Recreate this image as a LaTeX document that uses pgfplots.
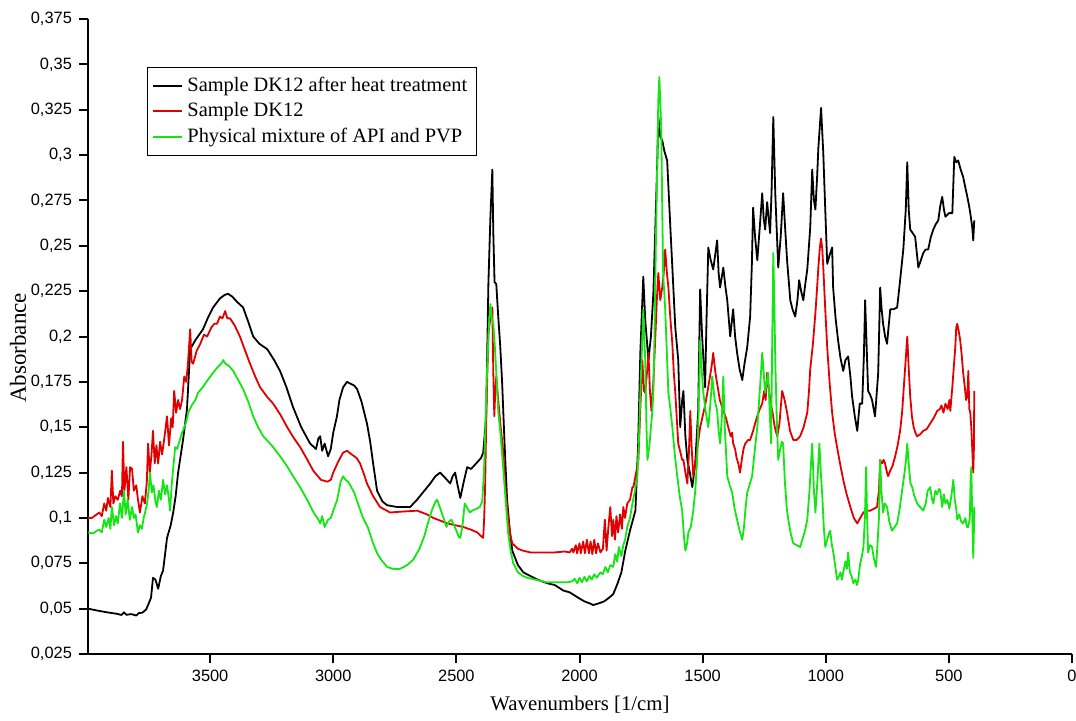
\documentclass[border=0pt]{standalone}
\usepackage{fontspec}
\setmainfont{Liberation Serif}
\newfontfamily\tickfont{Liberation Sans}
\usepackage{pgfplots}
\pgfplotsset{compat=1.18}
\definecolor{specred}{RGB}{225,0,0}
\definecolor{specgreen}{RGB}{20,230,20}
\pgfplotstableread{
wn a
3996 0.0500
3960 0.0490
3920 0.0480
3880 0.0472
3860 0.0465
3850 0.0480
3840 0.0466
3820 0.0470
3800 0.0462
3790 0.0475
3775 0.0478
3760 0.0495
3752 0.0520
3740 0.0560
3732 0.0670
3722 0.0660
3711 0.0610
3700 0.0680
3691 0.0710
3675 0.0890
3660 0.0960
3650 0.1030
3640 0.1120
3630 0.1250
3610 0.1430
3594 0.1600
3581 0.1930
3560 0.1980
3529 0.2040
3510 0.2100
3488 0.2160
3460 0.2210
3440 0.2230
3427 0.2235
3410 0.2220
3390 0.2190
3366 0.2160
3345 0.2080
3325 0.2000
3300 0.1960
3268 0.1930
3240 0.1870
3216 0.1810
3190 0.1720
3163 0.1610
3130 0.1500
3094 0.1410
3070 0.1380
3060 0.1440
3053 0.1450
3045 0.1370
3035 0.1410
3021 0.1340
3010 0.1380
3000 0.1470
2985 0.1560
2975 0.1650
2960 0.1720
2944 0.1750
2930 0.1740
2915 0.1730
2903 0.1710
2885 0.1640
2863 0.1520
2850 0.1420
2838 0.1300
2822 0.1150
2800 0.1090
2781 0.1070
2740 0.1060
2700 0.1060
2688 0.1060
2660 0.1100
2630 0.1150
2606 0.1190
2585 0.1230
2566 0.1250
2545 0.1220
2525 0.1190
2515 0.1230
2505 0.1250
2495 0.1180
2484 0.1110
2470 0.1200
2456 0.1280
2440 0.1270
2420 0.1300
2400 0.1330
2391 0.1360
2379 0.1560
2370 0.2290
2362 0.2650
2354 0.2920
2350 0.2570
2345 0.2300
2338 0.2290
2330 0.2110
2322 0.1950
2314 0.1740
2304 0.1400
2294 0.1100
2283 0.0930
2273 0.0820
2250 0.0740
2228 0.0700
2200 0.0680
2170 0.0660
2131 0.0640
2100 0.0630
2066 0.0600
2040 0.0590
2005 0.0560
1980 0.0540
1960 0.0530
1944 0.0520
1920 0.0530
1900 0.0540
1880 0.0560
1863 0.0580
1845 0.0640
1830 0.0700
1814 0.0820
1795 0.0930
1773 0.1040
1762 0.1400
1753 0.1910
1741 0.2330
1733 0.2090
1720 0.1870
1710 0.2000
1700 0.2240
1692 0.2600
1684 0.2970
1680 0.3210
1672 0.3100
1664 0.3080
1655 0.3020
1644 0.2970
1631 0.2600
1620 0.2300
1611 0.2050
1599 0.1870
1591 0.1500
1583 0.1650
1578 0.1700
1570 0.1450
1562 0.1320
1552 0.1250
1542 0.1170
1530 0.1300
1518 0.1590
1510 0.2260
1502 0.2000
1490 0.1720
1484 0.2100
1477 0.2490
1467 0.2420
1457 0.2370
1449 0.2450
1441 0.2530
1435 0.2350
1429 0.2270
1416 0.2380
1408 0.2280
1400 0.2200
1388 0.2000
1376 0.2150
1368 0.2000
1360 0.1910
1350 0.1820
1339 0.1760
1330 0.1850
1319 0.1940
1307 0.2110
1300 0.2400
1295 0.2710
1287 0.2550
1278 0.2420
1268 0.2600
1258 0.2790
1252 0.2650
1246 0.2590
1238 0.2740
1226 0.2570
1220 0.2800
1213 0.3210
1205 0.2790
1193 0.2380
1183 0.2550
1173 0.2790
1165 0.2600
1157 0.2420
1144 0.2200
1135 0.2150
1124 0.2110
1115 0.2200
1108 0.2310
1100 0.2250
1091 0.2200
1084 0.2280
1075 0.2370
1063 0.2600
1055 0.2920
1048 0.2750
1042 0.2700
1035 0.2880
1030 0.3040
1019 0.3260
1010 0.3010
1002 0.2700
994 0.2400
984 0.2450
974 0.2490
970 0.2270
960 0.2100
950 0.1980
940 0.1880
929 0.1810
920 0.1870
909 0.1890
900 0.1780
893 0.1670
882 0.1560
872 0.1480
862 0.1630
852 0.1630
845 0.1900
840 0.2200
834 0.1950
828 0.1700
820 0.1680
812 0.1650
800 0.1560
795 0.1650
787 0.1800
779 0.2270
773 0.2150
767 0.2070
759 0.2000
751 0.1960
745 0.2050
738 0.2150
725 0.2150
710 0.2160
698 0.2310
685 0.2480
675 0.2700
669 0.2960
663 0.2700
657 0.2590
647 0.2570
637 0.2550
624 0.2380
614 0.2420
604 0.2460
594 0.2480
584 0.2480
573 0.2550
563 0.2590
553 0.2620
543 0.2640
535 0.2720
527 0.2770
520 0.2700
514 0.2660
500 0.2680
486 0.2680
478 0.2990
470 0.2960
462 0.2970
452 0.2920
442 0.2880
433 0.2820
425 0.2770
418 0.2720
413 0.2680
405 0.2600
401 0.2530
397 0.2640
}\heated
\pgfplotstableread{
wn a
3996 0.1000
3980 0.1000
3960 0.1020
3950 0.1030
3940 0.1010
3930 0.1080
3922 0.1040
3915 0.1110
3905 0.1060
3899 0.1260
3893 0.1080
3885 0.1120
3875 0.1100
3865 0.1150
3858 0.1120
3854 0.1420
3848 0.1150
3840 0.1280
3832 0.1100
3825 0.1280
3817 0.1270
3810 0.1150
3800 0.1180
3793 0.1100
3785 0.1030
3775 0.1120
3765 0.1080
3757 0.1200
3752 0.1410
3745 0.1250
3738 0.1350
3732 0.1480
3725 0.1300
3718 0.1400
3711 0.1300
3703 0.1420
3695 0.1350
3685 0.1450
3675 0.1560
3667 0.1400
3658 0.1550
3652 0.1500
3646 0.1700
3638 0.1580
3630 0.1650
3622 0.1600
3614 0.1650
3605 0.1780
3597 0.1750
3590 0.1850
3581 0.2040
3575 0.1860
3569 0.1850
3555 0.1920
3540 0.1960
3525 0.2010
3512 0.2000
3495 0.2050
3483 0.2070
3472 0.2070
3460 0.2110
3450 0.2100
3439 0.2140
3430 0.2100
3419 0.2100
3400 0.2060
3379 0.2000
3360 0.1930
3338 0.1850
3317 0.1780
3297 0.1720
3270 0.1670
3244 0.1630
3215 0.1570
3187 0.1500
3160 0.1440
3134 0.1390
3105 0.1320
3081 0.1260
3050 0.1210
3024 0.1200
3010 0.1210
3000 0.1250
2980 0.1310
2960 0.1360
2944 0.1370
2925 0.1350
2905 0.1330
2891 0.1300
2875 0.1240
2863 0.1190
2838 0.1120
2810 0.1060
2769 0.1030
2720 0.1035
2659 0.1040
2620 0.1020
2594 0.1000
2565 0.0985
2537 0.0970
2505 0.0960
2472 0.0950
2440 0.0935
2415 0.0920
2400 0.0900
2391 0.0890
2387 0.1000
2383 0.1190
2378 0.1600
2370 0.2020
2362 0.2100
2354 0.2160
2350 0.1800
2346 0.1560
2342 0.1700
2338 0.1780
2330 0.1650
2320 0.1500
2310 0.1370
2300 0.1150
2290 0.1000
2280 0.0900
2273 0.0860
2250 0.0830
2230 0.0820
2200 0.0810
2150 0.0810
2100 0.0810
2060 0.0815
2040 0.0810
2030 0.0830
2025 0.0810
2015 0.0850
2010 0.0805
2000 0.0860
1995 0.0805
1985 0.0870
1978 0.0805
1970 0.0880
1962 0.0805
1955 0.0870
1948 0.0800
1940 0.0880
1933 0.0805
1925 0.0860
1915 0.0810
1905 0.0830
1897 0.0990
1890 0.0820
1882 0.0960
1875 0.1060
1868 0.0900
1863 0.0990
1856 0.0880
1850 0.1010
1843 0.0920
1835 0.1020
1828 0.0940
1822 0.1060
1815 0.1000
1806 0.1080
1795 0.1100
1785 0.1170
1781 0.1170
1770 0.1250
1761 0.1320
1753 0.1600
1745 0.1870
1738 0.1700
1733 0.1690
1726 0.1800
1720 0.1910
1714 0.1700
1708 0.1590
1700 0.1750
1692 0.2000
1686 0.2200
1680 0.2350
1672 0.2200
1664 0.2270
1658 0.2350
1652 0.2480
1645 0.2350
1639 0.2270
1631 0.2100
1623 0.1960
1617 0.1800
1611 0.1690
1605 0.1550
1599 0.1410
1590 0.1360
1583 0.1320
1578 0.1320
1570 0.1250
1562 0.1190
1556 0.1350
1550 0.1590
1545 0.1400
1538 0.1230
1530 0.1300
1520 0.1400
1510 0.1500
1500 0.1560
1490 0.1620
1481 0.1690
1470 0.1780
1462 0.1850
1457 0.1910
1448 0.1800
1441 0.1740
1430 0.1650
1416 0.1590
1405 0.1550
1396 0.1500
1386 0.1450
1380 0.1470
1376 0.1410
1368 0.1380
1362 0.1330
1355 0.1300
1348 0.1250
1340 0.1330
1334 0.1380
1327 0.1410
1315 0.1430
1307 0.1430
1295 0.1480
1287 0.1520
1278 0.1560
1268 0.1600
1258 0.1630
1250 0.1700
1244 0.1650
1238 0.1800
1230 0.1700
1222 0.1620
1217 0.1590
1207 0.1500
1197 0.1450
1188 0.1520
1182 0.1620
1177 0.1700
1167 0.1650
1157 0.1580
1145 0.1480
1132 0.1430
1118 0.1430
1104 0.1450
1090 0.1500
1075 0.1580
1068 0.1700
1063 0.1820
1052 0.1960
1042 0.2130
1036 0.2250
1030 0.2380
1024 0.2490
1019 0.2540
1014 0.2480
1010 0.2380
1002 0.2150
994 0.1940
984 0.1740
974 0.1580
964 0.1470
954 0.1390
942 0.1300
929 0.1210
915 0.1130
900 0.1060
886 0.1000
872 0.0970
860 0.1000
847 0.1030
835 0.1040
820 0.1040
805 0.1050
792 0.1060
784 0.1150
779 0.1320
772 0.1300
765 0.1320
759 0.1300
753 0.1260
747 0.1230
738 0.1260
728 0.1290
718 0.1340
708 0.1400
698 0.1480
690 0.1580
681 0.1760
674 0.1900
669 0.2000
664 0.1850
657 0.1670
650 0.1560
643 0.1500
636 0.1470
629 0.1450
617 0.1460
604 0.1480
590 0.1490
576 0.1520
562 0.1550
547 0.1590
537 0.1600
530 0.1620
522 0.1580
514 0.1630
505 0.1600
498 0.1650
494 0.1590
486 0.1720
479 0.1850
474 0.1940
470 0.2050
466 0.2070
460 0.2030
454 0.1980
448 0.1900
442 0.1800
436 0.1730
430 0.1650
425 0.1670
421 0.1810
417 0.1600
413 0.1580
409 0.1500
405 0.1380
401 0.1250
398 0.1400
397 0.1700
}\sample
\pgfplotstableread{
wn a
3996 0.0920
3975 0.0915
3960 0.0930
3950 0.0935
3940 0.0920
3930 0.0990
3922 0.0950
3912 0.1000
3905 0.0940
3899 0.1060
3890 0.0960
3882 0.1010
3875 0.0970
3866 0.1080
3858 0.1000
3850 0.1150
3843 0.1020
3835 0.1100
3826 0.0990
3817 0.1060
3810 0.1000
3803 0.1020
3793 0.0920
3785 0.0960
3777 0.0940
3770 0.1000
3764 0.1030
3756 0.1080
3750 0.1150
3744 0.1250
3737 0.1140
3730 0.1180
3722 0.1090
3716 0.1060
3708 0.1150
3700 0.1100
3691 0.1210
3683 0.1130
3675 0.1180
3667 0.1100
3663 0.1040
3655 0.1200
3648 0.1300
3642 0.1390
3634 0.1380
3625 0.1420
3614 0.1470
3605 0.1500
3597 0.1530
3589 0.1580
3575 0.1620
3560 0.1650
3549 0.1690
3530 0.1720
3510 0.1760
3488 0.1800
3470 0.1830
3455 0.1850
3447 0.1870
3438 0.1850
3425 0.1840
3406 0.1810
3386 0.1760
3366 0.1710
3345 0.1640
3325 0.1560
3305 0.1500
3284 0.1450
3250 0.1400
3216 0.1340
3190 0.1290
3163 0.1230
3135 0.1170
3106 0.1100
3080 0.1030
3060 0.0990
3053 0.0970
3045 0.1010
3035 0.0950
3021 0.0990
3010 0.1000
3000 0.1040
2984 0.1100
2970 0.1200
2960 0.1230
2950 0.1210
2940 0.1200
2931 0.1180
2915 0.1140
2900 0.1080
2879 0.1000
2860 0.0950
2838 0.0860
2820 0.0800
2800 0.0760
2781 0.0730
2760 0.0720
2740 0.0718
2728 0.0720
2700 0.0740
2675 0.0770
2650 0.0830
2630 0.0900
2618 0.0960
2600 0.1040
2585 0.1090
2578 0.1100
2565 0.1050
2550 0.0990
2540 0.0950
2530 0.0980
2520 0.0990
2513 0.0970
2500 0.0930
2490 0.0895
2484 0.0890
2475 0.0960
2466 0.1080
2458 0.1060
2445 0.1030
2436 0.1040
2420 0.1050
2405 0.1060
2395 0.1090
2388 0.1250
2380 0.1600
2375 0.1830
2368 0.2050
2362 0.2180
2356 0.2100
2350 0.2070
2344 0.1950
2338 0.1800
2330 0.1590
2320 0.1450
2310 0.1280
2300 0.1100
2290 0.0920
2280 0.0820
2269 0.0750
2250 0.0700
2230 0.0680
2212 0.0670
2180 0.0660
2131 0.0645
2091 0.0645
2050 0.0645
2030 0.0650
2020 0.0665
2009 0.0640
2000 0.0670
1990 0.0645
1980 0.0675
1970 0.0650
1960 0.0680
1950 0.0660
1940 0.0690
1930 0.0670
1915 0.0700
1905 0.0690
1895 0.0730
1885 0.0700
1875 0.0740
1863 0.0730
1855 0.0800
1847 0.0760
1840 0.0840
1830 0.0790
1822 0.0850
1815 0.0880
1806 0.0950
1795 0.1000
1785 0.1080
1775 0.1150
1765 0.1230
1758 0.1450
1753 0.1690
1746 0.1950
1741 0.2150
1737 0.2000
1733 0.1870
1728 0.1500
1724 0.1320
1716 0.1400
1710 0.1500
1704 0.1590
1700 0.1700
1696 0.1960
1690 0.2500
1684 0.2970
1680 0.3300
1676 0.3430
1672 0.3300
1668 0.3150
1664 0.2700
1660 0.2330
1656 0.2250
1652 0.2150
1645 0.1900
1639 0.1690
1631 0.1600
1623 0.1500
1613 0.1350
1603 0.1230
1593 0.1120
1583 0.1040
1576 0.0900
1570 0.0820
1563 0.0860
1558 0.0920
1548 0.0950
1538 0.1040
1530 0.1150
1522 0.1320
1516 0.1600
1510 0.1980
1503 0.1800
1497 0.1690
1487 0.1580
1477 0.1500
1469 0.1620
1461 0.1780
1451 0.1650
1441 0.1590
1435 0.1480
1429 0.1410
1422 0.1550
1416 0.1780
1410 0.1500
1400 0.1230
1390 0.1180
1380 0.1140
1370 0.1050
1360 0.0990
1350 0.0930
1339 0.0880
1332 0.0950
1326 0.1050
1319 0.1140
1310 0.1180
1299 0.1230
1290 0.1350
1278 0.1500
1268 0.1700
1262 0.1820
1258 0.1910
1252 0.1800
1246 0.1690
1240 0.1750
1234 0.1800
1228 0.1600
1222 0.1410
1218 0.1900
1213 0.2460
1209 0.2200
1205 0.1870
1199 0.1550
1193 0.1320
1185 0.1380
1178 0.1420
1173 0.1410
1166 0.1200
1158 0.1050
1152 0.0990
1143 0.0920
1132 0.0860
1118 0.0850
1104 0.0840
1095 0.0880
1084 0.0930
1075 0.0990
1066 0.1150
1060 0.1300
1055 0.1410
1048 0.1150
1042 0.1030
1034 0.1200
1026 0.1410
1020 0.1250
1014 0.1120
1008 0.0950
1002 0.0840
994 0.0880
988 0.0910
982 0.0930
975 0.0850
968 0.0800
960 0.0720
954 0.0660
946 0.0680
940 0.0700
934 0.0660
929 0.0700
920 0.0760
914 0.0720
909 0.0810
902 0.0700
895 0.0680
888 0.0640
880 0.0660
873 0.0630
868 0.0660
860 0.0750
853 0.0790
847 0.0840
841 0.1000
836 0.1280
832 0.1000
828 0.0810
820 0.0850
812 0.0840
805 0.0780
796 0.0730
790 0.0850
784 0.1000
779 0.1320
774 0.1150
767 0.1030
760 0.1080
751 0.1060
742 0.0980
731 0.0930
720 0.0950
710 0.0970
700 0.1050
690 0.1150
680 0.1250
674 0.1320
669 0.1410
663 0.1300
656 0.1190
649 0.1170
640 0.1120
629 0.1080
617 0.1060
604 0.1040
594 0.1080
586 0.1150
576 0.1170
568 0.1100
563 0.1080
555 0.1150
548 0.1130
540 0.1160
535 0.1150
527 0.1060
520 0.1130
514 0.1080
506 0.1100
498 0.1050
490 0.1120
482 0.1210
476 0.1100
470 0.1050
466 0.0990
458 0.1020
450 0.0980
442 0.0970
433 0.1000
427 0.0950
421 0.0950
415 0.1000
412 0.1200
409 0.1280
405 0.1000
401 0.0780
398 0.0950
397 0.1060
}\mixture
\begin{document}
\begin{tikzpicture}
\useasboundingbox (-44pt,-33pt) rectangle (494pt,327pt);
\begin{axis}[
  at={(0pt,0pt)}, anchor=south west,
  scale only axis, width=492pt, height=317.5pt,
  x dir=reverse, xmin=0, xmax=3996, ymin=0.025, ymax=0.375,
  axis x line=bottom, axis y line=left,
  axis line style={-, line width=1pt},
  xtick={0,500,1000,1500,2000,2500,3000,3500},
  ytick={0.025,0.05,0.075,0.1,0.125,0.15,0.175,0.2,0.225,0.25,0.275,0.3,0.325,0.35,0.375},
  tick align=outside, major tick length=4.5pt,
  tick style={line width=1pt, black},
  /pgf/number format/assume math mode=true,
  xticklabel style={font=\tickfont\fontsize{8.2}{10}\selectfont, /pgf/number format/1000 sep={}},
  yticklabel style={font=\tickfont\fontsize{8.2}{10}\selectfont, /pgf/number format/.cd, fixed, precision=3, use comma},
  xlabel={Wavenumbers [1/cm]},
  ylabel={Absorbance},
  xlabel style={font=\fontsize{10.4}{12}\selectfont, at={(axis description cs:0.5,0)}, anchor=center, yshift=-25.5pt},
  ylabel style={font=\fontsize{11.5}{13}\selectfont, at={(axis description cs:-0.0711,0.482)}, anchor=center},
  legend style={at={(axis description cs:0.06,0.9244)}, anchor=north west,
    font=\fontsize{10.2}{12}\selectfont, inner xsep=2.5pt, inner ysep=3pt},
  legend cell align=left,
  legend image code/.code={\draw[#1, line width=1pt] (0pt,0pt) -- (14.5pt,0pt);},
]
\addplot[color=black, line width=0.9pt, line join=round] table[x=wn, y=a] {\heated};
\addlegendentry{Sample DK12 after heat treatment}
\addplot[color=specred, line width=0.9pt, line join=round] table[x=wn, y=a] {\sample};
\addlegendentry{Sample DK12}
\addplot[color=specgreen, line width=0.9pt, line join=round] table[x=wn, y=a] {\mixture};
\addlegendentry{Physical mixture of API and PVP}
\end{axis}
\end{tikzpicture}
\end{document}
